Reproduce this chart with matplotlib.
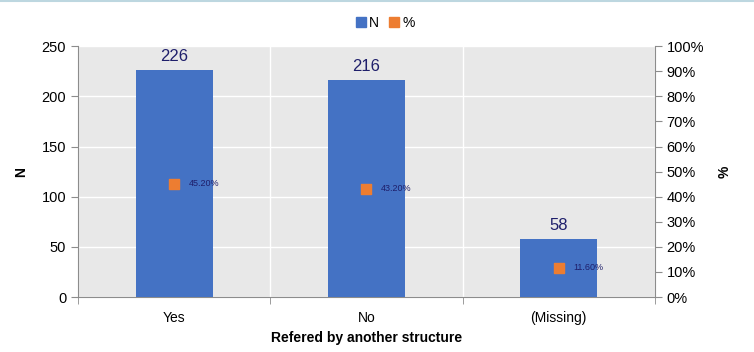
import matplotlib.pyplot as plt
from matplotlib.ticker import PercentFormatter
from matplotlib.lines import Line2D

categories = ['Yes', 'No', '(Missing)']
counts = [226, 216, 58]
percents = [45.2, 43.2, 11.6]

BLUE = '#4472C4'
ORANGE = '#ED7D31'
NAVY = '#1F1F6B'
GRAY = '#8C8C8C'

plt.rcParams['font.family'] = ['Liberation Sans', 'DejaVu Sans']

fig = plt.figure(figsize=(7.54, 3.52), dpi=100)
ax = fig.add_axes([0.1034, 0.156, 0.765, 0.713])
ax.set_facecolor('#E8E8E8')

xs = range(len(categories))
bars = ax.bar(xs, counts, width=0.4, color=BLUE, zorder=3)
for b, v in zip(bars, counts):
    ax.text(b.get_x() + b.get_width() / 2, v + 6, str(v), ha='center',
            va='bottom', fontsize=12, color=NAVY)

ax.set_xlim(-0.5, len(categories) - 0.5)
ax.set_ylim(0, 250)
ax.set_yticks(range(0, 251, 50))
ax.set_xticks(list(xs))
ax.set_xticklabels(categories, fontsize=10)
ax.set_xticks([i + 0.5 for i in range(-1, len(categories))], minor=True)
ax.tick_params(axis='x', which='major', length=0, pad=10)
ax.tick_params(axis='x', which='minor', length=5, color=GRAY)
ax.tick_params(axis='y', labelsize=10.5, length=5, color=GRAY)
ax.grid(axis='y', color='white', lw=1, zorder=1)
ax.grid(axis='x', which='minor', color='white', lw=1, zorder=1)
for s in ['top', 'right']:
    ax.spines[s].set_visible(False)
for s in ['left', 'bottom']:
    ax.spines[s].set_color(GRAY)
ax.set_ylabel('N', fontsize=10, fontweight='bold', labelpad=10)
ax.set_xlabel('Refered by another structure', fontsize=10,
              fontweight='bold', labelpad=4)

ax2 = ax.twinx()
ax2.set_ylim(0, 100)
ax2.set_yticks(range(0, 101, 10))
ax2.yaxis.set_major_formatter(PercentFormatter(decimals=0))
ax2.tick_params(axis='y', labelsize=10.5, length=5, color=GRAY)
for s in ['top', 'left', 'bottom']:
    ax2.spines[s].set_visible(False)
ax2.spines['right'].set_color(GRAY)
ax2.scatter(list(xs), percents, marker='s', s=60, color=ORANGE, zorder=4)
for x, p in zip(xs, percents):
    ax2.text(x + 0.075, p, f'{p:.2f}%', fontsize=6.5, color=NAVY,
             va='center', ha='left')
ax2.set_ylabel('%', fontsize=10, fontweight='bold', labelpad=10)

handles = [Line2D([], [], marker='s', ls='', color=BLUE, markersize=7),
           Line2D([], [], marker='s', ls='', color=ORANGE, markersize=7)]
fig.legend(handles, ['N', '%'], loc='center', bbox_to_anchor=(0.51, 0.935),
           ncol=2, frameon=False, fontsize=10, handletextpad=0.1,
           columnspacing=0.6, handlelength=1)

fig.add_artist(Line2D([0, 1], [0.997, 0.997], color='#BDD7E0', lw=1.5))

fig.savefig('out.png', dpi=100)
